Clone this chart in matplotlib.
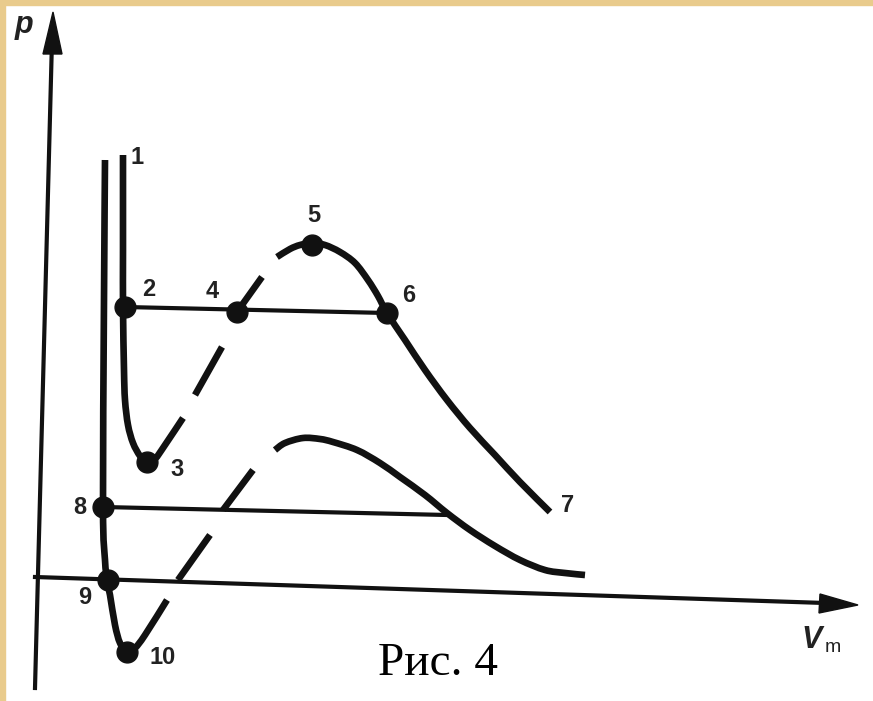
import matplotlib
matplotlib.use("Agg")
import matplotlib.pyplot as plt
from matplotlib.patches import Rectangle, Polygon, PathPatch
from matplotlib.path import Path

W, H = 873, 701

# ---- traced diagram data (image-space coordinates, y grows downward) ----
# upper isotherm: liquid branch 1 -> 2 -> 3 and rising part
iso1_left_x = [123, 123, 123, 124, 125, 128, 133, 140, 147, 155, 165, 183]
iso1_left_y = [155, 250, 307, 370, 400, 425, 443, 456, 463, 459, 445, 418]
# upper isotherm: dashed (unstable) pieces
iso1_dash1_x = [195, 222]
iso1_dash1_y = [395, 347]
iso1_dash2_x = [237, 262]
iso1_dash2_y = [312, 277]
# upper isotherm: 5 -> 6 -> 7
iso1_right_x = [277, 290, 300, 312, 325, 340, 355, 368, 378, 387, 405, 425,
                447, 470, 495, 520, 550]
iso1_right_y = [257, 249, 245, 243, 245, 252, 263, 280, 296, 313, 340, 370,
                400, 428, 455, 482, 512]

# lower isotherm: liquid branch 8 -> 9 -> 10 and rising part
iso2_left_x = [105, 104, 103, 105, 107, 110, 115, 120, 127, 135, 145, 167]
iso2_left_y = [160, 300, 507, 560, 580, 595, 625, 643, 652, 648, 635, 600]
iso2_dash1_x = [178, 210]
iso2_dash1_y = [580, 535]
iso2_dash2_x = [223, 253]
iso2_dash2_y = [510, 470]
iso2_right_x = [275, 285, 303, 320, 333, 357, 380, 400, 425, 447, 470, 495,
                520, 545, 565, 585]
iso2_right_y = [450, 443, 438, 439, 442, 450, 463, 477, 495, 513, 530, 546,
                560, 570, 573, 575]

# horizontal (coexistence) lines
tie1_x = [125, 387]
tie1_y = [307, 313]
tie2_x = [103, 447]
tie2_y = [507, 515]

# marked points and their labels
pt_names = ["2", "3", "4", "5", "6", "8", "9", "10"]
pt_x = [125, 147, 237, 312, 387, 103, 108, 127]
pt_y = [307, 462, 312, 245, 313, 507, 580, 652]
lab_names = ["1", "2", "3", "4", "5", "6", "7", "8", "9", "10"]
lab_x = [137, 149, 177, 212, 314, 409, 568, 80, 85, 163]
lab_y = [157, 290, 469, 292, 215, 295, 506, 507, 598, 658]

# axes of the diagram
paxis_x = [35, 52]
paxis_y = [688, 40]
vaxis_x = [35, 825]
vaxis_y = [577, 603]

ink = "#111111"


def smooth_path(xs, ys):
    """Catmull-Rom curve through the traced points, as cubic Bezier segments."""
    pts = list(zip(xs, ys))
    verts = [pts[0]]
    codes = [Path.MOVETO]
    n = len(pts)
    for i in range(n - 1):
        p0 = pts[max(i - 1, 0)]
        p1 = pts[i]
        p2 = pts[i + 1]
        p3 = pts[min(i + 2, n - 1)]
        c1 = (p1[0] + (p2[0] - p0[0]) / 6.0, p1[1] + (p2[1] - p0[1]) / 6.0)
        c2 = (p2[0] - (p3[0] - p1[0]) / 6.0, p2[1] - (p3[1] - p1[1]) / 6.0)
        verts += [c1, c2, p2]
        codes += [Path.CURVE4] * 3
    return Path(verts, codes)


fig = plt.figure(figsize=(W / 100, H / 100), dpi=100)
ax = fig.add_axes([0, 0, 1, 1])
ax.set_xlim(0, W)
ax.set_ylim(H, 0)
ax.axis("off")

# tan frame strips (top and left)
border = "#e9cb8c"
ax.add_patch(Rectangle((0, 0), W, 5, color=border, zorder=0))
ax.add_patch(Rectangle((0, 0), 5, H, color=border, zorder=0))

lw_c = 4.8
for xs, ys in [(iso1_left_x, iso1_left_y), (iso1_right_x, iso1_right_y),
               (iso2_left_x, iso2_left_y), (iso2_right_x, iso2_right_y)]:
    ax.add_patch(PathPatch(smooth_path(xs, ys), fill=False, edgecolor=ink,
                           lw=lw_c, capstyle="butt", joinstyle="round"))
for dx, dy in [(iso1_dash1_x, iso1_dash1_y), (iso1_dash2_x, iso1_dash2_y),
               (iso2_dash1_x, iso2_dash1_y), (iso2_dash2_x, iso2_dash2_y)]:
    ax.plot(dx, dy, color=ink, lw=lw_c, solid_capstyle="butt")

ax.plot(tie1_x, tie1_y, color=ink, lw=3.0)
ax.plot(tie2_x, tie2_y, color=ink, lw=3.0)

# axes lines with arrowheads
ax.plot(paxis_x, paxis_y, color=ink, lw=3.0)
ax.add_patch(Polygon([[53, 12], [43, 54], [62, 54]], closed=True, color=ink))
ax.plot(vaxis_x, vaxis_y, color=ink, lw=3.0)
ax.add_patch(Polygon([[858, 605], [820, 594], [819, 613]], closed=True, color=ink))

ax.plot(pt_x, pt_y, "o", color=ink, ms=15, zorder=5)

for t, x, y in zip(lab_names, lab_x, lab_y):
    ax.text(x, y, t, fontsize=17, family="Liberation Sans", weight="bold",
            color="#222222", ha="center", va="center")

ax.text(24, 25, "p", fontsize=22, family="Liberation Sans", style="italic",
        weight="bold", color="#222222", ha="center", va="center")
ax.text(812, 640, "V", fontsize=22, family="Liberation Sans", style="italic",
        weight="bold", color="#222222", ha="center", va="center")
ax.text(833, 648, "m", fontsize=14, family="Liberation Sans",
        color="#222222", ha="center", va="center")

ax.text(438, 664, "Рис. 4", fontsize=34, family="Liberation Serif",
        color="black", ha="center", va="center")

fig.savefig("out.png", dpi=100)
